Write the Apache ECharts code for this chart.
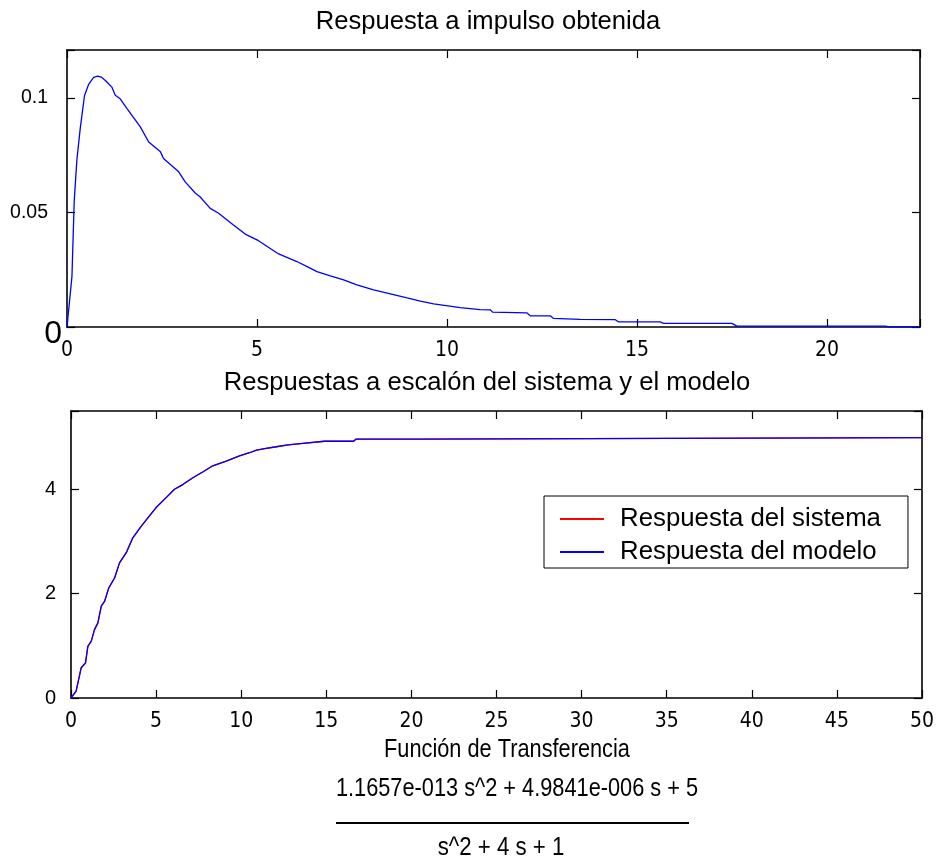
<!DOCTYPE html>
<html><head><meta charset="utf-8">
<script src="https://cdn.jsdelivr.net/npm/echarts@6/dist/echarts.min.js"></script>
<style>html,body{margin:0;padding:0;background:#fff}#c{width:937px;height:861px}</style>
</head><body><div id="c"></div>
<script>
// ---- Data ----
const impulsoT = [0,0.13,0.19,0.26,0.35,0.46,0.57,0.70,0.81,0.90,1.01,1.18,1.22,1.27,1.40,1.58,1.93,2.15,2.46,2.54,2.94,3.11,3.38,3.50,3.77,3.99,4.38,4.69,5.04,5.57,6.05,6.32,6.58,6.93,7.28,7.63,8.07,8.51,8.95,9.30,9.65,10.35,10.87,11.14,11.20,12.10,12.19,12.72,12.80,13.50,14.43,14.52,15.61,15.70,17.50,17.63,21.53,21.67,22.45];
const impulsoY = [0,0.022,0.055,0.073,0.087,0.101,0.106,0.109,0.1096,0.1092,0.1077,0.1048,0.1040,0.1012,0.0997,0.0954,0.0874,0.0808,0.0765,0.0736,0.0678,0.0634,0.0584,0.0569,0.0518,0.0497,0.0446,0.0406,0.0377,0.0319,0.0286,0.0264,0.0242,0.0223,0.0206,0.0184,0.0162,0.0145,0.0127,0.0113,0.0101,0.0085,0.0076,0.0075,0.0065,0.0062,0.0049,0.0049,0.0038,0.0033,0.0032,0.0022,0.0022,0.0016,0.0016,0.0004,0.0004,0,0];

const escalonT = [0,0.3,0.6,0.85,0.99,1.19,1.38,1.58,1.78,1.97,2.22,2.56,2.85,3.24,3.63,4.12,4.61,5.0,5.59,6.08,6.57,7.16,7.74,8.33,9.12,9.9,10.49,10.9,11.38,11.97,12.75,13.63,14.9,16.6,16.74,20.3,20.4,50];
const sistemaY = [0,0.13,0.58,0.67,0.99,1.09,1.31,1.44,1.76,1.85,2.11,2.30,2.59,2.78,3.07,3.29,3.49,3.65,3.84,4.00,4.09,4.22,4.33,4.45,4.54,4.64,4.70,4.75,4.78,4.81,4.85,4.88,4.92,4.92,4.96,4.96,4.99,4.99];
const modeloY  = [0,0.13,0.58,0.67,0.99,1.09,1.31,1.44,1.76,1.85,2.11,2.30,2.59,2.78,3.07,3.29,3.49,3.65,3.84,4.00,4.09,4.22,4.33,4.45,4.54,4.64,4.70,4.75,4.78,4.81,4.85,4.88,4.92,4.92,4.96,4.96,4.99,4.99];

const serieNombres = ['Respuesta del sistema', 'Respuesta del modelo'];
const titulos = ['Respuesta a impulso obtenida', 'Respuestas a escalón del sistema y el modelo'];
const tfTitulo = 'Función de Transferencia';
const tfNumerador = '1.1657e-013 s^2 + 4.9841e-006 s + 5';
const tfDenominador = 's^2 + 4 s + 1';

// axis ranges
const ejeImpulsoX = {min: 0, max: 22.45, interval: 5};
const ejeImpulsoY = {min: 0, max: 0.121, interval: 0.05};
const ejeEscalonX = {min: 0, max: 50, interval: 5};
const ejeEscalonY = {min: 0, max: 5.5, interval: 2};

// ---- Chart ----
const SANS = '"Liberation Sans", Arial, Helvetica, sans-serif';
const NARROW = '"Liberation Sans Narrow", "DejaVu Sans Condensed", "Liberation Sans", sans-serif';
const zip = (a, b) => a.map((v, i) => [v, b[i]]);
const onTick = (v, iv) => Math.abs(v / iv - Math.round(v / iv)) < 1e-6;
const fmt = v => String(+v.toFixed(4));

function xAxis(grid, r, pos, labels) {
  return {
    type: 'value', gridIndex: grid, position: pos, min: r.min, max: r.max, interval: r.interval,
    axisLine: {show: true, onZero: false, lineStyle: {color: '#000', width: 1.6}},
    axisTick: {show: true, inside: true, length: 8, lineStyle: {color: '#000', width: 1.2}},
    splitLine: {show: false},
    axisLabel: labels ? {show: true, margin: 13, fontFamily: NARROW, fontSize: 21, color: '#000',
      formatter: v => onTick(v, r.interval) ? fmt(v) : ''} : {show: false}
  };
}
function yAxis(grid, r, pos, labels) {
  return {
    type: 'value', gridIndex: grid, position: pos, min: r.min, max: r.max, interval: r.interval,
    axisLine: {show: true, onZero: false, lineStyle: {color: '#000', width: 1.6}},
    axisTick: {show: true, inside: true, length: 8, lineStyle: {color: '#000', width: 1.2}},
    splitLine: {show: false},
    axisLabel: labels ? Object.assign({show: true, color: '#000'}, labels) : {show: false}
  };
}
function tfText(text, x, y, sx) {
  return {type: 'text', x: x, y: y, scaleX: sx,
    style: {text: text, font: '25px ' + SANS, fill: '#000', textAlign: 'center', textVerticalAlign: 'middle'}};
}

const chart = echarts.init(document.getElementById('c'), null, {renderer: 'canvas'});
chart.setOption({
  backgroundColor: '#fff',
  animation: false,
  title: [
    {text: titulos[0], left: 488, top: 9, textAlign: 'center', padding: 0,
      textStyle: {fontFamily: SANS, fontSize: 25.6, fontWeight: 'normal', color: '#000'}},
    {text: titulos[1], left: 487, top: 370, textAlign: 'center', padding: 0,
      textStyle: {fontFamily: SANS, fontSize: 25.6, fontWeight: 'normal', color: '#000'}}
  ],
  grid: [
    {left: 67, top: 50, width: 853, height: 277},
    {left: 71, top: 411, width: 851, height: 287}
  ],
  xAxis: [
    xAxis(0, ejeImpulsoX, 'bottom', true),
    xAxis(0, ejeImpulsoX, 'top', false),
    xAxis(1, ejeEscalonX, 'bottom', true),
    xAxis(1, ejeEscalonX, 'top', false)
  ],
  yAxis: [
    yAxis(0, ejeImpulsoY, 'left', {margin: 19, fontFamily: SANS, fontSize: 19.5,
      formatter: v => (v === 0 || !onTick(v, ejeImpulsoY.interval)) ? '' : fmt(v)}),
    yAxis(0, ejeImpulsoY, 'right', null),
    Object.assign(yAxis(0, ejeImpulsoY, 'left', {margin: 5, fontFamily: SANS, fontSize: 32,
      formatter: v => v === 0 ? '{big|0}' : '',
      rich: {big: {fontFamily: SANS, fontSize: 32, color: '#000', padding: [14, 0, 0, 0]}}}),
      {axisLine: {show: false}, axisTick: {show: false}}),
    yAxis(1, ejeEscalonY, 'left', {margin: 15, fontFamily: SANS, fontSize: 20,
      formatter: v => onTick(v, ejeEscalonY.interval) ? fmt(v) : ''}),
    yAxis(1, ejeEscalonY, 'right', null)
  ],
  legend: {
    data: serieNombres, orient: 'vertical', left: 544, top: 496,
    backgroundColor: '#fff', borderColor: '#000', borderWidth: 1, borderRadius: 0,
    padding: [10, 27, 3, 16], itemWidth: 44, itemHeight: 2, itemGap: 7, icon: 'rect',
    selectedMode: false,
    textStyle: {fontFamily: SANS, fontSize: 25.8, color: '#000', lineHeight: 25, padding: [0, 0, 0, 11]}
  },
  series: [
    {name: 'impulso', type: 'line', xAxisIndex: 0, yAxisIndex: 0, data: zip(impulsoT, impulsoY),
      showSymbol: false, lineStyle: {color: '#0000ff', width: 1.3}, itemStyle: {color: '#0000ff'}},
    {name: serieNombres[0], type: 'line', xAxisIndex: 2, yAxisIndex: 3, data: zip(escalonT, sistemaY),
      showSymbol: false, lineStyle: {color: '#ff0000', width: 1.3}, itemStyle: {color: '#ff0000'}},
    {name: serieNombres[1], type: 'line', xAxisIndex: 2, yAxisIndex: 3, data: zip(escalonT, modeloY),
      showSymbol: false, lineStyle: {color: '#0000ff', width: 1.3}, itemStyle: {color: '#0000ff'}}
  ],
  graphic: [
    tfText(tfTitulo, 507, 750, 0.87),
    tfText(tfNumerador, 517, 789, 0.87),
    {type: 'line', shape: {x1: 336, y1: 823, x2: 689, y2: 823}, style: {stroke: '#000', lineWidth: 2}},
    tfText(tfDenominador, 501, 848, 0.89)
  ]
});
</script>
</body></html>
